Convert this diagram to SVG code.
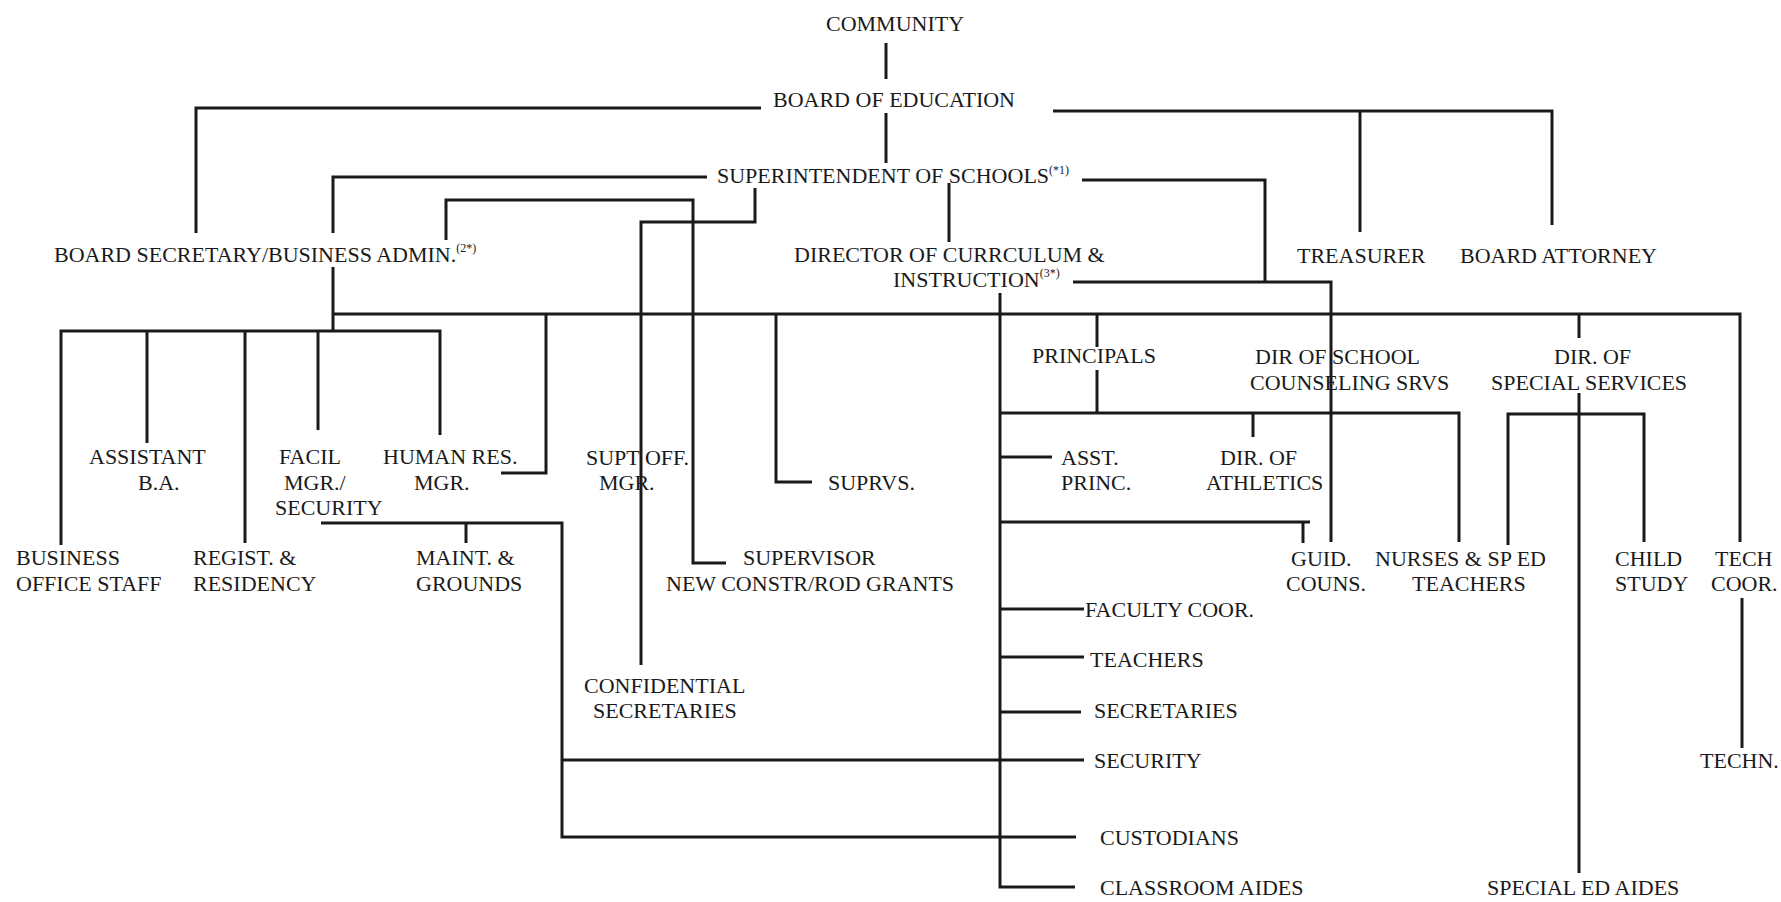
<svg xmlns="http://www.w3.org/2000/svg" width="1781" height="902" viewBox="0 0 1781 902">
<style>
text{font-family:"Liberation Serif","Times New Roman",serif;font-size:22px;fill:#1a1a1a}
.sup{font-size:12px}
#connectors path{fill:none;stroke:#1a1a1a;stroke-width:3}
</style>
<rect width="1781" height="902" fill="#ffffff"/>
<g id="connectors">
<path d="M886 43V79"/>
<path d="M886 113V163"/>
<path d="M761 108H196V233"/>
<path d="M1053 111H1552V225"/>
<path d="M1360 111V232"/>
<path d="M707 177H333V233"/>
<path d="M333 267V331"/>
<path d="M61 545V331H440V435"/>
<path d="M147 331V443"/>
<path d="M245 331V543"/>
<path d="M318 331V430"/>
<path d="M333 314H1740V542"/>
<path d="M546 314V473H501"/>
<path d="M755 188V222H641V665"/>
<path d="M446 240V200H693V563H726"/>
<path d="M776 314V482H812"/>
<path d="M949 183V242"/>
<path d="M1082 180H1265V282"/>
<path d="M1073 282H1331V542"/>
<path d="M1000 293V887H1075"/>
<path d="M1097 314V347"/>
<path d="M1097 370V413"/>
<path d="M1000 413H1459V542"/>
<path d="M1253 413V437"/>
<path d="M1000 457H1052"/>
<path d="M1000 522H1310"/>
<path d="M1303 522V543"/>
<path d="M1000 609H1084"/>
<path d="M1000 657H1084"/>
<path d="M1000 712H1081"/>
<path d="M321 523H562V837H1076"/>
<path d="M562 760H1084"/>
<path d="M466 523V543"/>
<path d="M1579 314V338"/>
<path d="M1579 393V873"/>
<path d="M1508 545V414H1644V542"/>
<path d="M1742 598V748"/>
</g>
<g id="community"><text x="826" y="31">COMMUNITY</text></g>
<g id="board-of-education"><text x="773" y="107">BOARD OF EDUCATION</text></g>
<g id="superintendent"><text x="717" y="183">SUPERINTENDENT OF SCHOOLS<tspan class="sup" dy="-9">(*1)</tspan></text></g>
<g id="board-secretary"><text x="54" y="262">BOARD SECRETARY/BUSINESS ADMIN.<tspan class="sup" dy="-10">(2*)</tspan></text></g>
<g id="director-curriculum"><text x="794" y="262">DIRECTOR OF CURRCULUM &amp;</text><text x="893" y="287">INSTRUCTION<tspan class="sup" dy="-10">(3*)</tspan></text></g>
<g id="treasurer"><text x="1297" y="263">TREASURER</text></g>
<g id="board-attorney"><text x="1460" y="263">BOARD ATTORNEY</text></g>
<g id="assistant-ba"><text x="89" y="464">ASSISTANT</text><text x="138" y="490">B.A.</text></g>
<g id="facil-mgr"><text x="279" y="464">FACIL</text><text x="284" y="490">MGR./</text><text x="275" y="515">SECURITY</text></g>
<g id="human-res"><text x="383" y="464">HUMAN RES.</text><text x="414" y="490">MGR.</text></g>
<g id="supt-off-mgr"><text x="586" y="465">SUPT OFF.</text><text x="599" y="490">MGR.</text></g>
<g id="suprvs"><text x="828" y="490">SUPRVS.</text></g>
<g id="business-office"><text x="16" y="565">BUSINESS</text><text x="16" y="591">OFFICE STAFF</text></g>
<g id="regist"><text x="193" y="565">REGIST. &amp;</text><text x="193" y="591">RESIDENCY</text></g>
<g id="maint"><text x="416" y="565">MAINT. &amp;</text><text x="416" y="591">GROUNDS</text></g>
<g id="supervisor-new-constr"><text x="743" y="565">SUPERVISOR</text><text x="666" y="591">NEW CONSTR/ROD GRANTS</text></g>
<g id="confidential"><text x="584" y="693">CONFIDENTIAL</text><text x="593" y="718">SECRETARIES</text></g>
<g id="principals"><text x="1032" y="363">PRINCIPALS</text></g>
<g id="dir-counseling"><text x="1255" y="364">DIR OF SCHOOL</text><text x="1250" y="390">COUNSELING SRVS</text></g>
<g id="dir-special"><text x="1554" y="364">DIR. OF</text><text x="1491" y="390">SPECIAL SERVICES</text></g>
<g id="asst-princ"><text x="1061" y="465">ASST.</text><text x="1061" y="490">PRINC.</text></g>
<g id="dir-athletics"><text x="1220" y="465">DIR. OF</text><text x="1206" y="490">ATHLETICS</text></g>
<g id="guid-couns"><text x="1291" y="566">GUID.</text><text x="1286" y="591">COUNS.</text></g>
<g id="nurses"><text x="1375" y="566">NURSES &amp; SP ED</text><text x="1412" y="591">TEACHERS</text></g>
<g id="child-study"><text x="1615" y="566">CHILD</text><text x="1615" y="591">STUDY</text></g>
<g id="tech-coor"><text x="1715" y="566">TECH</text><text x="1711" y="591">COOR.</text></g>
<g id="faculty-coor"><text x="1085" y="617">FACULTY COOR.</text></g>
<g id="teachers"><text x="1090" y="667">TEACHERS</text></g>
<g id="secretaries"><text x="1094" y="718">SECRETARIES</text></g>
<g id="security"><text x="1094" y="768">SECURITY</text></g>
<g id="custodians"><text x="1100" y="845">CUSTODIANS</text></g>
<g id="classroom-aides"><text x="1100" y="895">CLASSROOM AIDES</text></g>
<g id="techn"><text x="1700" y="768">TECHN.</text></g>
<g id="special-ed-aides"><text x="1487" y="895">SPECIAL ED AIDES</text></g>
</svg>
